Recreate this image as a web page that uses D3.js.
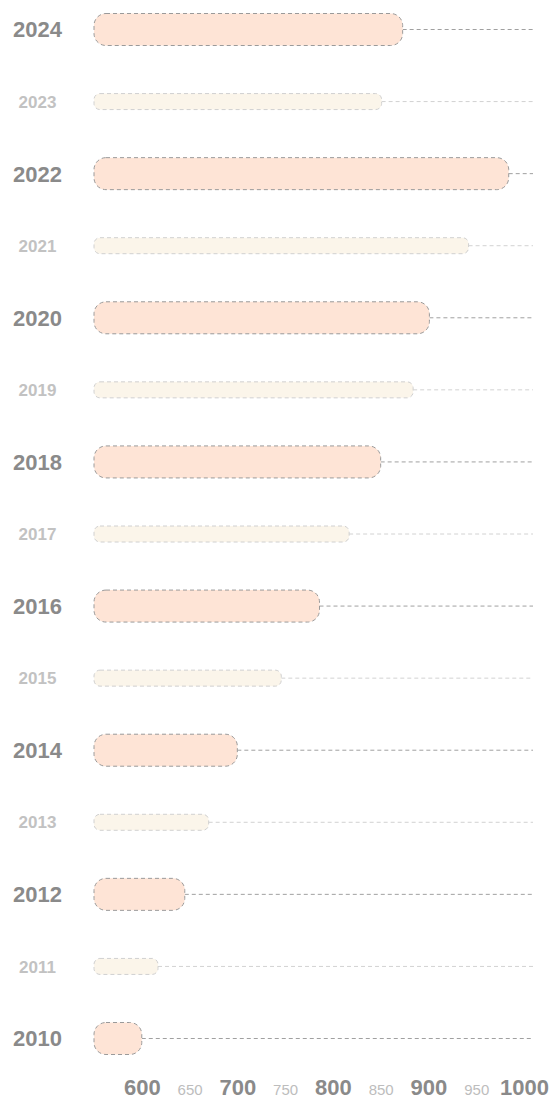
<!DOCTYPE html>
<html>
<head>
<meta charset="utf-8">
<script src="https://cdn.jsdelivr.net/npm/d3@7"></script>
<style>
  html, body { margin: 0; padding: 0; background: #fff; }
  svg { display: block; font-family: "Liberation Sans", Arial, sans-serif; }
</style>
</head>
<body>
<div id="chart"></div>
<script>
// data
const years = [2024, 2023, 2022, 2021, 2020, 2019, 2018, 2017, 2016, 2015, 2014, 2013, 2012, 2011, 2010];
const values = [873, 851, 984, 942, 901, 884, 850, 817, 786, 746, 700, 670, 645, 617, 600];
const tickValues = [600, 650, 700, 750, 800, 850, 900, 950, 1000];

const width = 552, height = 1100;

const svg = d3.select("#chart").append("svg")
    .attr("width", width)
    .attr("height", height);

const x = d3.scaleLinear().domain([550, 1000]).range([94, 524]);
const y = d3.scalePoint().domain(years).range([29.5, 1038.5]);
const lineEnd = 533;

const rows = years.map((yr, i) => ({ year: yr, value: values[i], major: yr % 2 === 0 }));

// dashed guide lines from bar end to the right
svg.append("g").selectAll("line")
    .data(rows)
    .join("line")
    .attr("x1", d => x(d.value))
    .attr("x2", lineEnd)
    .attr("y1", d => y(d.year))
    .attr("y2", d => y(d.year))
    .attr("stroke", d => d.major ? "#a0a0a0" : "#d2d2d2")
    .attr("stroke-width", 1)
    .attr("stroke-dasharray", "4,3");

// bars
svg.append("g").selectAll("rect")
    .data(rows)
    .join("rect")
    .attr("x", x(550))
    .attr("width", d => x(d.value) - x(550))
    .attr("y", d => y(d.year) - (d.major ? 16 : 8))
    .attr("height", d => d.major ? 32 : 16)
    .attr("rx", d => d.major ? 12 : 6)
    .attr("fill", d => d.major ? "#fee4d6" : "#fbf5ea")
    .attr("stroke", d => d.major ? "#9a9a9a" : "#d0d0d0")
    .attr("stroke-width", 1)
    .attr("stroke-dasharray", "4,3");

// year labels
svg.append("g").selectAll("text")
    .data(rows)
    .join("text")
    .attr("x", 37.5)
    .attr("y", d => y(d.year))
    .attr("dy", "0.36em")
    .attr("text-anchor", "middle")
    .attr("font-size", d => d.major ? 22 : 17)
    .attr("font-weight", "bold")
    .attr("fill", d => d.major ? "#8a8a8a" : "#c2c2c2")
    .text(d => d.year);

// x axis
const axis = svg.append("g")
    .attr("transform", `translate(0,1095)`)
    .call(d3.axisBottom(x).tickValues(tickValues).tickSize(0).tickPadding(0).tickFormat(d3.format("d")));

axis.select(".domain").remove();
axis.selectAll("text")
    .attr("dy", 0)
    .attr("font-family", "'Liberation Sans', Arial, sans-serif")
    .attr("font-size", d => d % 100 === 0 ? 22 : 15)
    .attr("font-weight", d => d % 100 === 0 ? "bold" : "normal")
    .attr("fill", d => d % 100 === 0 ? "#8a8a8a" : "#bdbdbd");
</script>
</body>
</html>
